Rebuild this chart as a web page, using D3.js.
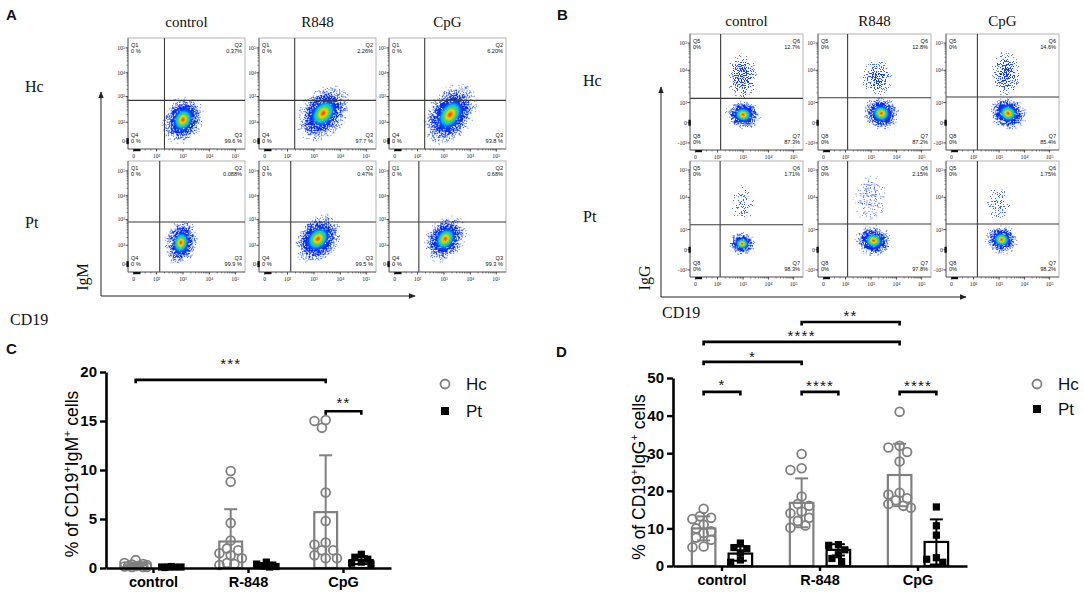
<!DOCTYPE html>
<html><head><meta charset="utf-8">
<script src="https://cdn.jsdelivr.net/npm/d3@7"></script>
<style>body{margin:0;background:#fff;} svg{display:block;}</style>
</head><body>
<svg id="chart" width="1084" height="594"></svg>
<script>
// ================= DATA =================
const flowCols = ["control", "R848", "CpG"];
const flowRows = ["Hc", "Pt"];
const flowTicksX = [0, 2, 3, 4, 5];
const flowTickLabelsX = ["0", "10²", "10³", "10⁴", "10⁵"];
const igmTicksY = [0, 2, 3, 4, 5];
const igmTickLabelsY = ["0", "10²", "10³", "10⁴", "10⁵"];
const iggTicksY = [-3, 0, 3, 4, 5];
const iggTickLabelsY = ["-10³", "0", "10³", "10⁴", "10⁵"];

// order: Hc control, Hc R848, Hc CpG, Pt control, Pt R848, Pt CpG
const igmQ1 = ["0 %", "0 %", "0 %", "0 %", "0 %", "0 %"];
const igmQ2 = ["0.37%", "2.26%", "6.20%", "0.088%", "0.47%", "0.68%"];
const igmQ3 = ["99.6 %", "97.7 %", "93.8 %", "99.9 %", "99.5 %", "99.3 %"];
const igmQ4 = ["0 %", "0 %", "0 %", "0 %", "0 %", "0 %"];
const igmGateX = [2.3, 2.27, 2.27, 2.12, 2.12, 2.05];
const igmGateY = [2.85, 2.85, 2.85, 2.9, 2.9, 2.9];
// population: [CD19, IgM, spread CD19, spread IgM, tilt]
const igmPop = [
  [3.0, 2.1, 0.78, 1.0, 25], [3.35, 2.35, 0.88, 1.3, 40], [3.23, 2.3, 0.88, 1.4, 35],
  [2.92, 2.1, 0.64, 0.92, 12], [3.15, 2.25, 0.82, 1.12, 40], [3.05, 2.25, 0.74, 1.02, 35]
];

const iggQ5 = ["0%", "0%", "0%", "0%", "0%", "0%"];
const iggQ6 = ["12.7%", "12.8%", "14.6%", "1.71%", "2.15%", "1.75%"];
const iggQ7 = ["87.3%", "87.2%", "85.4%", "98.3%", "97.8%", "98.2%"];
const iggQ8 = ["0%", "0%", "0%", "0%", "0%", "0%"];
const iggGateX = [2.12, 2.08, 2.15, 2.1, 2.08, 2.15];
const iggGateY = [3.13, 3.15, 3.17, 3.15, 3.17, 3.17];
// IgG- population: [CD19, IgG, spread CD19, spread IgG, tilt]
const iggPop = [
  [3.0, 1.2, 0.72, 1.9, 10], [3.4, 1.4, 0.75, 1.8, 25], [3.35, 1.4, 0.77, 1.8, 25],
  [2.96, 0.9, 0.57, 1.75, 5], [3.1, 1.35, 0.75, 1.8, 15], [3.1, 1.5, 0.68, 1.65, 15]
];
// IgG+ population: [CD19, IgG, spread CD19, spread IgG, tilt, density]
const iggPosPop = [
  [2.97, 3.81, 0.62, 0.82, 0, 0.34], [3.23, 3.75, 0.64, 0.64, 0, 0.33], [3.27, 3.9, 0.58, 0.84, 0, 0.34],
  [2.97, 3.81, 0.48, 0.64, 0, 0.2], [2.96, 3.97, 0.68, 0.87, 10, 0.2], [2.96, 3.81, 0.48, 0.64, 0, 0.19]
];

// Bar charts
const groups = ["control", "R-848", "CpG"];
const cohorts = ["Hc", "Pt"];
const igmTicks = [0, 5, 10, 15, 20];
const igmHc = [
  [0.8, 0.5, 0.4, 0.35, 0.3, 0.25, 0.2, 0.2, 0.15, 0.1, 0.1, 0.1],
  [9.9, 8.8, 4.6, 2.8, 2.0, 1.8, 1.5, 1.3, 1.0, 0.5, 0.4, 0.3],
  [15.1, 15.0, 14.3, 7.7, 4.8, 2.6, 2.4, 1.8, 1.8, 1.3, 1.0, 1.0]
];
const igmPt = [
  [0.15, 0.1, 0.1, 0.1, 0.1, 0.05],
  [0.6, 0.4, 0.3, 0.2, 0.15, 0.1],
  [1.4, 1.1, 0.9, 0.6, 0.5, 0.4]
];
const igmHcMean = [0.3, 2.7, 5.7], igmHcSD = [0.2, 3.3, 5.8];
const igmPtMean = [0.1, 0.3, 0.8], igmPtSD = [0.03, 0.2, 0.4];
// significance: [group A, cohort A, group B, cohort B, bar level, label]
const igmSig = [
  [0, "Hc", 2, "Hc", 19.2, "***"],
  [2, "Hc", 2, "Pt", 16.0, "**"]
];

const iggTicks = [0, 10, 20, 30, 40, 50];
const iggHc = [
  [15.2, 13.2, 12.8, 12.5, 11.0, 10.0, 9.2, 8.8, 7.5, 7.0, 5.2, 5.0],
  [29.8, 26.0, 25.5, 18.5, 16.5, 16.0, 14.5, 14.0, 12.8, 12.0, 10.8, 10.2],
  [41.0, 32.0, 31.5, 30.3, 27.8, 19.5, 19.0, 18.0, 17.5, 16.5, 16.0, 15.5]
];
const iggPt = [
  [6.1, 4.9, 4.6, 3.5, 1.6, 1.0],
  [5.7, 5.5, 4.3, 3.0, 2.0, 1.2],
  [15.7, 10.7, 8.2, 2.2, 1.8, 1.0]
];
const iggHcMean = [10.0, 16.8, 24.2], iggHcSD = [3.2, 6.5, 8.3];
const iggPtMean = [3.3, 4.3, 6.4], iggPtSD = [1.9, 1.5, 6.0];
const iggSig = [
  [1, "Hc", 2, "Hc", 64.9, "**"],
  [0, "Hc", 2, "Hc", 59.6, "****"],
  [0, "Hc", 1, "Hc", 54.3, "*"],
  [0, "Hc", 0, "Pt", 46.3, "*"],
  [1, "Hc", 1, "Pt", 46.3, "****"],
  [2, "Hc", 2, "Pt", 46.3, "****"]
];

// ================= DRAWING =================
const svg = d3.select("#chart");
const defs = svg.append("defs");
const SERIF = "'Liberation Serif','Times New Roman',serif";
const SANS = "'Liberation Sans',Arial,Helvetica,sans-serif";

// density gradients (gray level = relative cell density)
function addDensityGrad(id, stops, scale) {
  const g = defs.append("radialGradient").attr("id", id);
  stops.forEach(s => {
    const v = Math.round(255 * s[1] * scale);
    g.append("stop").attr("offset", s[0]).attr("stop-color", d3.rgb(v, v, v).formatHex());
  });
}
const denseProfile = [[0, 1], [0.1, 0.93], [0.2, 0.82], [0.3, 0.7], [0.42, 0.56], [0.55, 0.43], [0.7, 0.29], [0.85, 0.14], [1, 0]];
const sparseProfile = [[0, 1], [0.35, 0.85], [0.6, 0.6], [0.82, 0.3], [1, 0]];
addDensityGrad("dense", denseProfile, 1);

// speckle + heat colour filter
const f = defs.append("filter").attr("id", "speckle")
  .attr("x", "-5%").attr("y", "-5%").attr("width", "110%").attr("height", "110%")
  .attr("color-interpolation-filters", "sRGB");
f.append("feTurbulence").attr("type", "fractalNoise").attr("baseFrequency", "0.9")
  .attr("numOctaves", "2").attr("seed", "5").attr("result", "noise");
f.append("feColorMatrix").attr("in", "noise").attr("type", "matrix")
  .attr("values", "0 0 0 0 0  0 0 0 0 0  0 0 0 0 0  2.4 0 0 0 -0.7").attr("result", "n");
f.append("feColorMatrix").attr("in", "SourceGraphic").attr("type", "matrix")
  .attr("values", "0 0 0 0 0  0 0 0 0 0  0 0 0 0 0  1 0 0 0 0").attr("result", "d");
f.append("feComposite").attr("in", "d").attr("in2", "n").attr("operator", "arithmetic")
  .attr("k1", 0).attr("k2", 1.6).attr("k3", 1).attr("k4", -1).attr("result", "m");
f.append("feColorMatrix").attr("in", "m").attr("type", "matrix")
  .attr("values", "0 0 0 0 0  0 0 0 0 0  0 0 0 0 0  0 0 0 40 0").attr("result", "mask");
const ct = f.append("feComponentTransfer").attr("in", "SourceGraphic").attr("result", "col");
ct.append("feFuncR").attr("type", "table").attr("tableValues", "0.45 0.3 0.15 0.05 0 0 0 0 0.3 1 1");
ct.append("feFuncG").attr("type", "table").attr("tableValues", "0.55 0.45 0.34 0.24 0.16 0.18 0.3 0.78 0.85 0.85 0.15");
ct.append("feFuncB").attr("type", "table").attr("tableValues", "1 1 1 1 1 1 1 0.95 0.25 0 0");
f.append("feComposite").attr("in", "col").attr("in2", "mask").attr("operator", "in");

// arrow marker
defs.append("marker").attr("id", "arrow").attr("viewBox", "0 0 10 10").attr("refX", 9).attr("refY", 5)
  .attr("markerWidth", 7).attr("markerHeight", 7).attr("markerUnits", "userSpaceOnUse").attr("orient", "auto")
  .append("path").attr("d", "M0,1 L10,5 L0,9 Z").attr("fill", "#222");

function txt(g, x, y, s, size, opts = {}) {
  return g.append("text").attr("x", x).attr("y", y).text(s)
    .attr("font-family", opts.family || SANS).attr("font-size", size)
    .attr("font-weight", opts.weight || "normal").attr("fill", opts.fill || "#111")
    .attr("text-anchor", opts.anchor || "start");
}

const FX = [0.048, 0.244, 0.47, 0.695, 0.917];

function drawFlow(cfg) {
  const root = svg.append("g");
  cfg.rowY.forEach((ry, ri) => cfg.colX.forEach((cx0, ci) => {
    const k = ri * 3 + ci;
    const w = cfg.w, h = cfg.h;
    const x = d3.scaleLinear().domain(flowTicksX).range(FX.map(fr => cx0 + fr * w));
    const y = d3.scaleLinear().domain(cfg.yTicks).range(cfg.yFrac.map(fr => ry + fr * h));
    const g = root.append("g");
    const cid = `clip${cfg.id}${k}`;
    defs.append("clipPath").attr("id", cid).append("rect")
      .attr("x", cx0).attr("y", ry).attr("width", w).attr("height", h);
    const pg = g.append("g").attr("clip-path", `url(#${cid})`);
    const drawPop = (p, grad) => {
      const X = x(p[0]), Y = y(p[1]);
      const rx = Math.abs(x(p[0] + p[2]) - X);
      const rr = Math.abs(y(p[1] + p[3]) - Y);
      pg.append("ellipse").attr("cx", X).attr("cy", Y).attr("rx", rx).attr("ry", rr)
        .attr("transform", `rotate(${p[4]},${X},${Y})`)
        .attr("fill", `url(#${grad})`).attr("filter", "url(#speckle)");
    };
    if (cfg.pos) {
      const gid = `sp${cfg.id}${k}`;
      addDensityGrad(gid, sparseProfile, cfg.pos[k][5]);
      drawPop(cfg.pos[k], gid);
    }
    drawPop(cfg.pop[k], "dense");

    // frame
    g.append("rect").attr("x", cx0).attr("y", ry).attr("width", w).attr("height", h)
      .attr("fill", "none").attr("stroke", "#b4b4b4").attr("stroke-width", 1);
    // gates
    g.append("line").attr("x1", x(cfg.gateX[k])).attr("x2", x(cfg.gateX[k])).attr("y1", ry).attr("y2", ry + h)
      .attr("stroke", "#3a3a3a").attr("stroke-width", 1.1);
    g.append("line").attr("x1", cx0).attr("x2", cx0 + w).attr("y1", y(cfg.gateY[k])).attr("y2", y(cfg.gateY[k]))
      .attr("stroke", "#3a3a3a").attr("stroke-width", 1.1);
    // axes lines
    g.append("line").attr("x1", cx0).attr("x2", cx0).attr("y1", ry).attr("y2", ry + h).attr("stroke", "#555").attr("stroke-width", 0.8);
    g.append("line").attr("x1", cx0).attr("x2", cx0 + w).attr("y1", ry + h).attr("y2", ry + h).attr("stroke", "#555").attr("stroke-width", 0.8);
    // y ticks
    cfg.yTicks.forEach((t, i) => {
      g.append("line").attr("x1", cx0 - 2.5).attr("x2", cx0).attr("y1", y(t)).attr("y2", y(t)).attr("stroke", "#222").attr("stroke-width", 0.8);
      txt(g, cx0 - 3, y(t) + 2, cfg.yLabels[i], 5.8, { family: SERIF, anchor: "end", fill: "#222" });
    });
    cfg.minorY.forEach(dec => {
      for (let m = 2; m <= 9; m++) {
        const v = dec + Math.log10(m);
        g.append("line").attr("x1", cx0 - 1.5).attr("x2", cx0).attr("y1", y(v)).attr("y2", y(v)).attr("stroke", "#333").attr("stroke-width", 0.6);
      }
    });
    // x ticks
    flowTicksX.forEach((t, i) => {
      g.append("line").attr("x1", x(t)).attr("x2", x(t)).attr("y1", ry + h).attr("y2", ry + h + 2.5).attr("stroke", "#222").attr("stroke-width", 0.8);
      txt(g, x(t), ry + h + 9, flowTickLabelsX[i], 5.8, { family: SERIF, anchor: "middle", fill: "#222" });
    });
    [2, 3, 4].forEach(dec => {
      for (let m = 2; m <= 9; m++) {
        const v = dec + Math.log10(m);
        g.append("line").attr("x1", x(v)).attr("x2", x(v)).attr("y1", ry + h).attr("y2", ry + h + 1.5).attr("stroke", "#333").attr("stroke-width", 0.6);
      }
    });
    [0.5, 1, 1.5].forEach(v => {
      g.append("line").attr("x1", x(v)).attr("x2", x(v)).attr("y1", ry + h).attr("y2", ry + h + 1.5).attr("stroke", "#333").attr("stroke-width", 0.6);
    });
    // dense black marks near zero
    g.append("rect").attr("x", x(0)).attr("y", ry + h).attr("width", x(0.6) - x(0)).attr("height", 2.2).attr("fill", "#111");
    g.append("rect").attr("x", cx0 - 1.6).attr("y", y(0) - 3).attr("width", 2.4).attr("height", 6).attr("fill", "#111");
    // quadrant labels
    const L = cfg.qNames;
    txt(g, cx0 + 3, ry + 9, L[0], 5.6);
    txt(g, cx0 + 3, ry + 15, cfg.q[0][k], 5.6);
    txt(g, cx0 + w - 3, ry + 9, L[1], 5.6, { anchor: "end" });
    txt(g, cx0 + w - 3, ry + 15, cfg.q[1][k], 5.6, { anchor: "end" });
    txt(g, cx0 + 3, ry + h - 12, L[3], 5.6);
    txt(g, cx0 + 3, ry + h - 6, cfg.q[3][k], 5.6);
    txt(g, cx0 + w - 3, ry + h - 12, L[2], 5.6, { anchor: "end" });
    txt(g, cx0 + w - 3, ry + h - 6, cfg.q[2][k], 5.6, { anchor: "end" });
  }));
  // headers
  flowCols.forEach((c, i) => txt(root, cfg.colX[i] + cfg.w / 2, cfg.headY, c, 15, { family: SERIF, anchor: "middle" }));
  flowRows.forEach((r, i) => txt(root, cfg.rowLabelX, cfg.rowLabelY[i], r, 16, { family: SERIF }));
  // big axes
  root.append("line").attr("x1", cfg.ax).attr("x2", cfg.ax).attr("y1", cfg.ay).attr("y2", cfg.ayTop)
    .attr("stroke", "#222").attr("stroke-width", 1).attr("marker-end", "url(#arrow)");
  root.append("line").attr("x1", cfg.ax).attr("x2", cfg.axRight).attr("y1", cfg.ay).attr("y2", cfg.ay)
    .attr("stroke", "#222").attr("stroke-width", 1).attr("marker-end", "url(#arrow)");
  root.append("text").text(cfg.yName).attr("transform", `translate(${cfg.yNameX},${cfg.yNameY}) rotate(-90)`)
    .attr("text-anchor", "middle").attr("font-family", SERIF).attr("font-size", 16).attr("fill", "#111");
  txt(root, cfg.xNameX, cfg.xNameY, "CD19", 16, { family: SERIF });
  txt(root, cfg.letterX, 20, cfg.letter, 15, { weight: "bold" });
}

drawFlow({
  id: "A", letter: "A", letterX: 6,
  colX: [128, 259, 389], rowY: [38, 161], w: 117, h: 111,
  yTicks: igmTicksY, yLabels: igmTickLabelsY, yFrac: [0.929, 0.759, 0.527, 0.313, 0.089], minorY: [2, 3, 4],
  q: [igmQ1, igmQ2, igmQ3, igmQ4], qNames: ["Q1", "Q2", "Q3", "Q4"],
  gateX: igmGateX, gateY: igmGateY, pop: igmPop, pos: null,
  headY: 27, rowLabelX: 25, rowLabelY: [92, 228],
  ax: 101, ay: 296, ayTop: 92, axRight: 415, yName: "IgM", yNameX: 88, yNameY: 277,
  xNameX: 10, xNameY: 325
});
drawFlow({
  id: "B", letter: "B", letterX: 557,
  colX: [690, 818, 946], rowY: [34, 161], w: 113, h: 116,
  yTicks: iggTicksY, yLabels: iggTickLabelsY, yFrac: [0.939, 0.765, 0.591, 0.313, 0.078], minorY: [3, 4],
  q: [iggQ5, iggQ6, iggQ7, iggQ8], qNames: ["Q5", "Q6", "Q7", "Q8"],
  gateX: iggGateX, gateY: iggGateY, pop: iggPop, pos: iggPosPop,
  headY: 26, rowLabelX: 583, rowLabelY: [86, 222],
  ax: 661, ay: 297, ayTop: 87, axRight: 966, yName: "IgG", yNameX: 650, yNameY: 278,
  xNameX: 662, xNameY: 318
});

// ---------- bar charts ----------
function swarm(vals, cx, y, r, maxOff) {
  const placed = [];
  const order = vals.map(v => v).sort((a, b) => b - a);
  const step = r * 0.85;
  const cands = [0];
  for (let k = 1; k * step <= maxOff; k++) { cands.push(-k * step, k * step); }
  order.forEach(v => {
    const py = y(v);
    let best = null, bestD = -1;
    for (const off of cands) {
      const d = placed.length ? d3.min(placed, q => Math.hypot(q.x - (cx + off), q.y - py)) : Infinity;
      if (d >= 2 * r * 0.92) { best = off; break; }
      if (d > bestD) { bestD = d; best = off; }
    }
    placed.push({ x: cx + best, y: py });
  });
  return placed;
}

function barPanel(o) {
  const g = svg.append("g");
  const x = d3.scaleBand().domain(groups).range(o.xr);
  const xs = d3.scaleBand().domain(cohorts).range([x.bandwidth() * 0.125, x.bandwidth() * 0.875]);
  const y = d3.scaleLinear().domain([0, o.ymax]).range(o.yr);
  const cxOf = (gi, c) => x(groups[gi]) + xs(c) + xs.bandwidth() / 2;
  const bw = xs.bandwidth() * 0.64;
  const colors = { Hc: "#808080", Pt: "#000" };
  const series = { Hc: [o.hc, o.hcMean, o.hcSD], Pt: [o.pt, o.ptMean, o.ptSD] };

  cohorts.forEach(c => {
    const [vals, mean, sd] = series[c];
    groups.forEach((gr, gi) => {
      const cx = cxOf(gi, c);
      g.append("rect").attr("x", cx - bw / 2).attr("y", y(mean[gi])).attr("width", bw)
        .attr("height", y(0) - y(mean[gi])).attr("fill", "#fff").attr("stroke", colors[c]).attr("stroke-width", 2.2);
    });
  });
  cohorts.forEach(c => {
    const [vals, mean, sd] = series[c];
    groups.forEach((gr, gi) => {
      const cx = cxOf(gi, c);
      const hi = mean[gi] + sd[gi], lo = Math.max(0, mean[gi] - sd[gi]);
      g.append("line").attr("x1", cx).attr("x2", cx).attr("y1", y(lo)).attr("y2", y(hi))
        .attr("stroke", colors[c]).attr("stroke-width", 2);
      g.append("line").attr("x1", cx - 6.5).attr("x2", cx + 6.5).attr("y1", y(hi)).attr("y2", y(hi))
        .attr("stroke", colors[c]).attr("stroke-width", 2);
      if (lo > 0) g.append("line").attr("x1", cx - 6.5).attr("x2", cx + 6.5).attr("y1", y(lo)).attr("y2", y(lo))
        .attr("stroke", colors[c]).attr("stroke-width", 2);
      const pts = swarm(vals[gi], cx, y, c === "Hc" ? 4.4 : 3.8, 12);
      if (c === "Hc") {
        g.selectAll(null).data(pts).join("circle").attr("cx", d => d.x).attr("cy", d => d.y).attr("r", 4.4)
          .attr("fill", "none").attr("stroke", colors.Hc).attr("stroke-width", 1.8);
      } else {
        g.selectAll(null).data(pts).join("rect").attr("x", d => d.x - 3.6).attr("y", d => d.y - 3.6)
          .attr("width", 7.2).attr("height", 7.2).attr("fill", "#000");
      }
    });
  });

  // axes
  const ya = g.append("g").attr("transform", `translate(${o.xr[0]},0)`)
    .call(d3.axisLeft(y).tickValues(o.ticks).tickSize(6).tickSizeOuter(0).tickPadding(3));
  const xa = g.append("g").attr("transform", `translate(0,${y(0)})`)
    .call(d3.axisBottom(x).tickSize(5).tickSizeOuter(0).tickPadding(4));
  [ya, xa].forEach(a => {
    a.select(".domain").attr("stroke", "#000").attr("stroke-width", 2.6);
    a.selectAll(".tick line").attr("stroke", "#000").attr("stroke-width", 2.4);
    a.selectAll("text").attr("font-family", SANS).attr("font-weight", "bold").attr("fill", "#000");
  });
  ya.selectAll("text").attr("font-size", 15);
  xa.selectAll("text").attr("font-size", 14.5);

  // significance
  o.sig.forEach((s, i) => {
    const x1 = cxOf(s[0], s[1]), x2 = cxOf(s[2], s[3]), yy = y(s[4]);
    g.append("path").attr("d", `M${x1},${yy + 3.5}V${yy}H${x2}V${yy + 3.5}`)
      .attr("fill", "none").attr("stroke", "#000").attr("stroke-width", 2.6);
    txt(g, (x1 + x2) / 2, yy - o.sigGap[i], s[5], 15, { anchor: "middle" }).attr("letter-spacing", 1.2);
  });

  // legend
  g.append("circle").attr("cx", o.leg[0]).attr("cy", o.leg[1]).attr("r", 4.5)
    .attr("fill", "none").attr("stroke", colors.Hc).attr("stroke-width", 1.8);
  txt(g, o.leg[0] + 21, o.leg[1] + 6, "Hc", 17);
  g.append("rect").attr("x", o.leg[0] - 4).attr("y", o.leg[2] - 4).attr("width", 8).attr("height", 8).attr("fill", "#000");
  txt(g, o.leg[0] + 21, o.leg[2] + 6, "Pt", 17);

  // y title
  const t = g.append("text").attr("transform", `translate(${o.title[0]},${o.title[1]}) rotate(-90)`)
    .attr("text-anchor", "middle").attr("font-family", SANS).attr("font-size", 17.5).attr("fill", "#000");
  t.append("tspan").text("% of CD19");
  t.append("tspan").text("+").attr("font-size", 11).attr("dy", -7);
  t.append("tspan").text(o.ig).attr("dy", 7);
  t.append("tspan").text("+").attr("font-size", 11).attr("dy", -7);
  t.append("tspan").text(" cells").attr("dy", 7);

  txt(g, o.letter[1], o.letter[2], o.letter[0], 15, { weight: "bold" });
}

barPanel({
  xr: [106, 391], yr: [568, 372], ymax: 20, ticks: igmTicks,
  hc: igmHc, pt: igmPt, hcMean: igmHcMean, hcSD: igmHcSD, ptMean: igmPtMean, ptSD: igmPtSD,
  sig: igmSig, sigGap: [11, 3], leg: [445, 384, 411], title: [78, 474], ig: "IgM",
  letter: ["C", 6, 354]
});
barPanel({
  xr: [673, 967], yr: [566, 378], ymax: 50, ticks: iggTicks,
  hc: iggHc, pt: iggPt, hcMean: iggHcMean, hcSD: iggHcSD, ptMean: iggPtMean, ptSD: iggPtSD,
  sig: iggSig, sigGap: [1, 1, 0, 2, 1, 1], leg: [1037, 384, 409], title: [645, 477], ig: "IgG",
  letter: ["D", 556, 357]
});
</script>
</body></html>
